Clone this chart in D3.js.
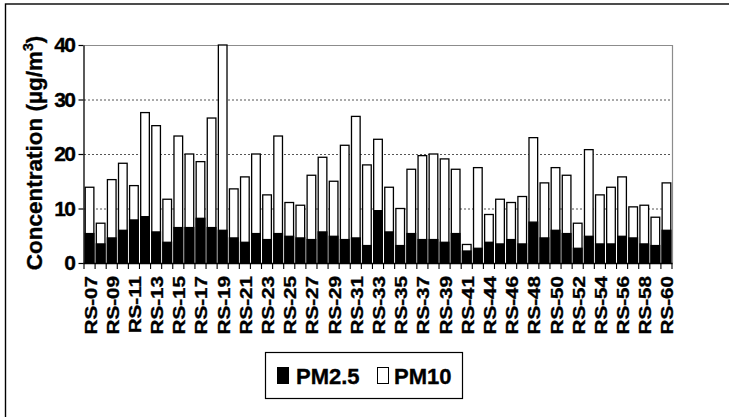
<!DOCTYPE html>
<html>
<head>
<meta charset="utf-8">
<script src="https://cdn.jsdelivr.net/npm/d3@7"></script>
<style>
  body { margin: 0; background: #fff; }
  text { font-family: Arial, "Liberation Sans", sans-serif; font-weight: bold; fill: #000;
         stroke: #000; stroke-width: 0.35px; }
</style>
</head>
<body>
<div id="chart"></div>
<script>
// sampling sites (RS-43 not sampled)
var sites = ["RS-07","RS-08","RS-09","RS-10","RS-11","RS-12","RS-13","RS-14","RS-15","RS-16",
             "RS-17","RS-18","RS-19","RS-20","RS-21","RS-22","RS-23","RS-24","RS-25","RS-26",
             "RS-27","RS-28","RS-29","RS-30","RS-31","RS-32","RS-33","RS-34","RS-35","RS-36",
             "RS-37","RS-38","RS-39","RS-40","RS-41","RS-42","RS-44","RS-45","RS-46","RS-47",
             "RS-48","RS-49","RS-50","RS-51","RS-52","RS-53","RS-54","RS-55","RS-56","RS-57",
             "RS-58","RS-59","RS-60"];

var pm10 = [13.9, 7.3, 15.3, 18.3, 14.2, 27.6, 25.2, 11.7, 23.3, 20.0,
            18.6, 26.6, 40.0, 13.6, 15.8, 20.0, 12.5, 23.3, 11.1, 10.6,
            16.1, 19.4, 15.0, 21.6, 26.9, 18.0, 22.7, 13.9, 10.0, 17.2,
            19.7, 20.0, 19.1, 17.2, 3.4, 17.5, 8.9, 11.7, 11.1, 12.2,
            23.0, 14.7, 17.5, 16.1, 7.3, 20.8, 12.5, 13.9, 15.8, 10.3,
            10.6, 8.4, 14.7];

var pm25 = [5.4, 3.5, 4.6, 6.0, 7.9, 8.5, 5.7, 3.8, 6.5, 6.5,
            8.2, 6.5, 6.0, 4.6, 3.8, 5.4, 4.3, 5.4, 4.9, 4.6,
            4.3, 5.7, 4.9, 4.3, 4.6, 3.2, 9.6, 5.7, 3.2, 5.4,
            4.3, 4.3, 3.8, 5.4, 2.2, 2.7, 3.8, 3.5, 4.3, 3.5,
            7.5, 4.6, 6.0, 5.4, 2.7, 4.9, 3.5, 3.5, 4.9, 4.6,
            3.5, 3.2, 6.0];

var yTicks = [0, 10, 20, 30, 40];

var width = 729, height = 417;
var plot = { left: 84, right: 672, top: 45, bottom: 263 };

var svg = d3.select("#chart").append("svg")
    .attr("width", width)
    .attr("height", height);

// outer frame
svg.append("rect")
    .attr("x", 5.5).attr("y", 4)
    .attr("width", 760).attr("height", 440)
    .attr("fill", "none")
    .attr("stroke", "#000")
    .attr("stroke-width", 1.4);

var x = d3.scaleBand()
    .domain(sites)
    .range([plot.left, plot.right])
    .paddingInner(0.22)
    .paddingOuter(0.11);

var y = d3.scaleLinear()
    .domain([0, 40])
    .range([plot.bottom, plot.top]);

// dotted gridlines
svg.selectAll(".grid")
    .data(yTicks.filter(function(d) { return d > 0 && d < 40; }))
    .enter().append("line")
    .attr("class", "grid")
    .attr("x1", plot.left).attr("x2", plot.right)
    .attr("y1", function(d) { return y(d) + 0.5; })
    .attr("y2", function(d) { return y(d) + 0.5; })
    .attr("stroke", "#555")
    .attr("stroke-width", 1)
    .attr("stroke-dasharray", "2,2");

// plot frame top / right in gray
svg.append("path")
    .attr("d", "M" + plot.left + "," + (y(40) + 0.5) + "H" + (plot.right + 0.5) + "V" + plot.bottom)
    .attr("fill", "none")
    .attr("stroke", "#8c8c8c")
    .attr("stroke-width", 1.2);

// PM10 bars (white), PM2.5 overlaid (black)
svg.selectAll(".pm10")
    .data(pm10)
    .enter().append("rect")
    .attr("class", "pm10")
    .attr("x", function(d, i) { return x(sites[i]); })
    .attr("y", function(d) { return y(d); })
    .attr("width", x.bandwidth())
    .attr("height", function(d) { return y(0) - y(d); })
    .attr("fill", "#fff")
    .attr("stroke", "#000")
    .attr("stroke-width", 1.3);

svg.selectAll(".pm25")
    .data(pm25)
    .enter().append("rect")
    .attr("class", "pm25")
    .attr("x", function(d, i) { return x(sites[i]); })
    .attr("y", function(d) { return y(d); })
    .attr("width", x.bandwidth())
    .attr("height", function(d) { return y(0) - y(d); })
    .attr("fill", "#000")
    .attr("stroke", "#000")
    .attr("stroke-width", 1.3);

// y axis
var yAxis = svg.append("g")
    .attr("transform", "translate(" + (plot.left - 0.5) + ",0)")
    .call(d3.axisLeft(y).tickValues(yTicks).tickSize(5).tickSizeOuter(0).tickPadding(4));
yAxis.select(".domain").attr("stroke", "#000").attr("stroke-width", 1.3);
yAxis.selectAll(".tick line").attr("stroke", "#000").attr("stroke-width", 1.2);
yAxis.selectAll(".tick text")
    .attr("font-size", 21)
    .attr("letter-spacing", "-1.5px")
    .attr("font-family", "Arial, 'Liberation Sans', sans-serif")
    .attr("font-weight", "bold");

// x axis: ticks at category boundaries
var step = x.step();
var bounds = d3.range(sites.length + 1).map(function(i) { return plot.left + i * step; });

svg.append("line")
    .attr("x1", plot.left - 0.5).attr("x2", plot.right + 0.5)
    .attr("y1", plot.bottom + 0.5).attr("y2", plot.bottom + 0.5)
    .attr("stroke", "#000")
    .attr("stroke-width", 1.3);

svg.selectAll(".xtick")
    .data(bounds)
    .enter().append("line")
    .attr("class", "xtick")
    .attr("x1", function(d) { return d; })
    .attr("x2", function(d) { return d; })
    .attr("y1", plot.bottom)
    .attr("y2", plot.bottom + 6)
    .attr("stroke", "#000")
    .attr("stroke-width", 1.1);

svg.selectAll(".xlabel")
    .data(sites.filter(function(d, i) { return i % 2 === 0; }))
    .enter().append("text")
    .attr("class", "xlabel")
    .attr("text-anchor", "end")
    .attr("font-size", 16.5)
    .attr("transform", function(d) {
        var cx = x(d) + x.bandwidth() / 2 + 7;
        return "translate(" + cx + "," + (plot.bottom + 13) + ") rotate(-90) scale(1.25,1)";
    })
    .text(function(d) { return d; });

// y axis title
var title = svg.append("text")
    .attr("text-anchor", "middle")
    .attr("font-size", 22.5)
    .attr("transform", "translate(42,153) rotate(-90)");
title.append("tspan").text("Concentration (\u00b5g/m");
title.append("tspan").attr("font-size", 14).attr("dy", -9).text("3");
title.append("tspan").attr("dy", 9).text(")");

// legend
var legend = svg.append("g");
legend.append("rect")
    .attr("x", 265.5).attr("y", 352.5)
    .attr("width", 197).attr("height", 46)
    .attr("fill", "#fff")
    .attr("stroke", "#000")
    .attr("stroke-width", 1.2);

var legendItems = [
    { name: "PM2.5", fill: "#000", sx: 277, tx: 296 },
    { name: "PM10", fill: "#fff", sx: 377, tx: 394 }
];

legend.selectAll(".swatch")
    .data(legendItems)
    .enter().append("rect")
    .attr("x", function(d) { return d.sx + 0.5; })
    .attr("y", 367.5)
    .attr("width", 11)
    .attr("height", 16)
    .attr("fill", function(d) { return d.fill; })
    .attr("stroke", "#000")
    .attr("stroke-width", 1);

legend.selectAll(".ltext")
    .data(legendItems)
    .enter().append("text")
    .attr("x", function(d) { return d.tx; })
    .attr("y", 384)
    .attr("font-size", 22)
    .text(function(d) { return d.name; });
</script>
</body>
</html>
